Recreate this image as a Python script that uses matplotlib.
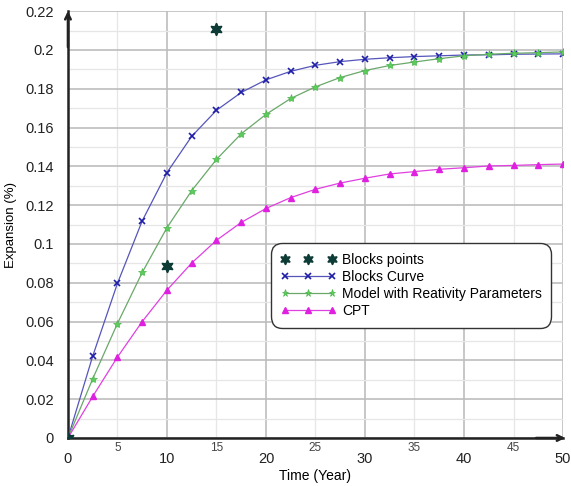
import matplotlib
matplotlib.use("Agg")
import matplotlib.pyplot as plt
from matplotlib.ticker import MultipleLocator, FixedLocator

plt.rcParams["font.family"] = ["Liberation Sans", "DejaVu Sans"]

t = [0, 2.5, 5, 7.5, 10, 12.5, 15, 17.5, 20, 22.5, 25, 27.5, 30, 32.5, 35, 37.5, 40, 42.5, 45, 47.5, 50]
blocks_curve = [0, 0.0422, 0.0797, 0.1119, 0.1368, 0.1555, 0.1689, 0.1781, 0.1846, 0.189, 0.1921, 0.194,
                0.1952, 0.196, 0.1966, 0.197, 0.1974, 0.1975, 0.1978, 0.1979, 0.198]
model = [0, 0.0305, 0.059, 0.0853, 0.1084, 0.1275, 0.1436, 0.1568, 0.1668, 0.175, 0.181, 0.1858,
         0.1894, 0.192, 0.1938, 0.1955, 0.197, 0.1978, 0.1983, 0.1986, 0.199]
cpt = [0, 0.0214, 0.0417, 0.06, 0.0762, 0.0902, 0.1019, 0.1111, 0.1183, 0.1239, 0.1282, 0.1314,
       0.1339, 0.1361, 0.1373, 0.1385, 0.1393, 0.1402, 0.1405, 0.1409, 0.1412]
block_t = [0, 10, 15]
block_pts = [0, 0.0886, 0.2106]

x_major = [0, 10, 20, 30, 40, 50]
x_minor = [5, 15, 25, 35, 45]
y_ticks = [0, 0.02, 0.04, 0.06, 0.08, 0.1, 0.12, 0.14, 0.16, 0.18, 0.2, 0.22]
y_labels = ["0", "0.02", "0.04", "0.06", "0.08", "0.1", "0.12", "0.14", "0.16", "0.18", "0.2", "0.22"]

fig = plt.figure(figsize=(5.71, 4.86), dpi=100)
ax = fig.add_axes([0.119, 0.0988, 0.867, 0.8782])

ax.plot(t, blocks_curve, color="#5555bb", lw=0.9, marker="x", ms=4.5, mec="#1f1fa8", mew=1.2,
        label="Blocks Curve", zorder=4)
ax.plot(t, model, color="#6aa86a", lw=0.9, marker="*", ms=6, mfc="#5ccc5c", mec="#4cb84c", mew=0.5,
        label="Model with Reativity Parameters", zorder=4)
ax.plot(t, cpt, color="#e040e0", lw=0.9, marker="^", ms=4.5, mfc="#e020e0", mec="#e020e0",
        label="CPT", zorder=4)
ax.plot(block_t, block_pts, ls="none", marker=(6, 1, 0), ms=9, color="#0d3b36",
        label="Blocks points", zorder=5)

ax.set_xlim(0, 50)
ax.set_ylim(0, 0.22)
ax.xaxis.set_major_locator(FixedLocator(x_major))
ax.xaxis.set_minor_locator(FixedLocator(x_minor))
ax.set_xticklabels([str(v) for v in x_major], fontsize=10.5, color="#222222")
ax.set_xticklabels([str(v) for v in x_minor], minor=True, fontsize=8.5, color="#444444")
ax.tick_params(axis="x", which="major", length=0, pad=10)
ax.tick_params(axis="x", which="minor", length=0, pad=3)
ax.yaxis.set_major_locator(FixedLocator(y_ticks))
ax.yaxis.set_minor_locator(MultipleLocator(0.01))
ax.set_yticklabels(y_labels, fontsize=10.5, color="#222222")
ax.tick_params(axis="y", which="both", length=0, pad=10)

ax.grid(which="major", color="#bdbdbd", lw=1.2, zorder=0)
ax.grid(which="minor", color="#e6e6e6", lw=0.9, zorder=0)

for s in ["top", "right"]:
    ax.spines[s].set_visible(False)
for s in ["left", "bottom"]:
    ax.spines[s].set_color("#222222")
    ax.spines[s].set_linewidth(1.8)

ax.annotate("", xy=(0, 0.2215), xytext=(0, 0.2), xycoords="data",
            arrowprops=dict(arrowstyle="->", color="#222222", lw=1.8), annotation_clip=False)
ax.annotate("", xy=(50.5, 0), xytext=(47, 0), xycoords="data",
            arrowprops=dict(arrowstyle="->", color="#222222", lw=1.8), annotation_clip=False)

ax.set_xlabel("Time (Year)", fontsize=10, labelpad=2)
ax.set_ylabel("Expansion (%)", fontsize=9.5, labelpad=6)

handles, labels = ax.get_legend_handles_labels()
order = [3, 0, 1, 2]
leg = ax.legend([handles[i] for i in order], [labels[i] for i in order],
                loc="upper left", bbox_to_anchor=(0.41, 0.457), borderaxespad=0, numpoints=3,
                fontsize=10, frameon=True, fancybox=True, edgecolor="#333333",
                framealpha=1, handlelength=4.0, handletextpad=0.4, labelspacing=0.22,
                borderpad=0.7, markerscale=0.85)
leg.get_frame().set_linewidth(1.0)
leg.get_frame().set_boxstyle("round", pad=0, rounding_size=0.8)

fig.savefig("out.png", dpi=100)
